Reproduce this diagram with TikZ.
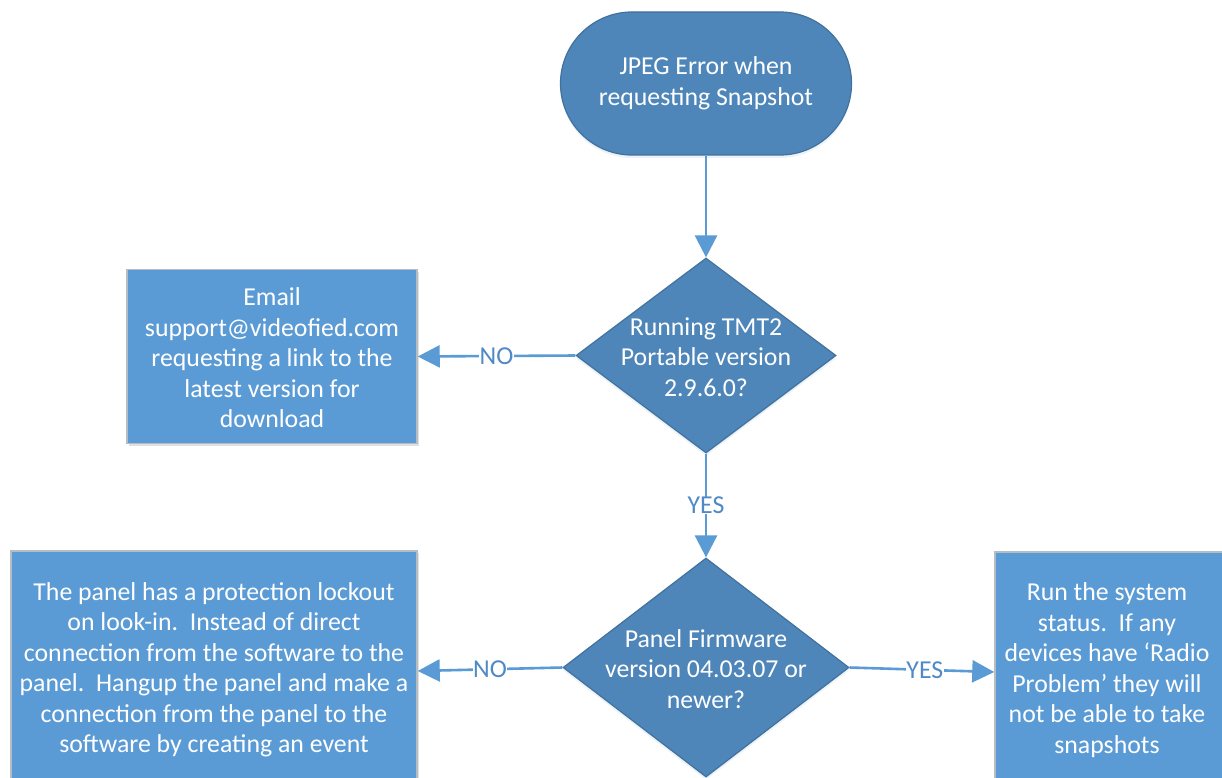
\documentclass[tikz,border=0pt]{standalone}
\usepackage{fontspec}
\setmainfont{Carlito}
\usetikzlibrary{shapes.geometric,arrows.meta,shadows}
\definecolor{darkfill}{HTML}{4E86B9}
\definecolor{darkline}{HTML}{41719C}
\definecolor{boxfill}{HTML}{5B9BD5}
\definecolor{boxline}{HTML}{B4BCC4}
\definecolor{arrowcol}{HTML}{5B9BD5}
\definecolor{labcol}{HTML}{4F89C6}
\tikzset{
  txt/.style={text=white, align=center, font=\fontsize{25.8}{30.5}\selectfont, inner sep=0pt},
  terminal/.style={draw=darkline, line width=1.2pt, fill=darkfill, rounded corners=71.5pt,
     minimum width=291pt, minimum height=143pt, inner sep=0pt,
     drop shadow={shadow xshift=0pt, shadow yshift=-3pt, opacity=0.12, fill=arrowcol}},
  decision/.style={diamond, draw=darkline, line width=1.2pt, fill=darkfill, inner sep=0pt,
     drop shadow={shadow xshift=0pt, shadow yshift=-3pt, opacity=0.12, fill=arrowcol}},
  process/.style={draw=boxline, line width=1.5pt, fill=boxfill, inner sep=0pt,
     drop shadow={shadow xshift=2pt, shadow yshift=-2pt, opacity=0.12, fill=black}},
  conn/.style={draw=arrowcol, line width=2.6pt, -{Triangle[length=22pt,width=22pt]}},
  lab/.style={fill=white, text=labcol, font=\fontsize{25.8}{30.5}\selectfont, inner sep=0.5pt}
}
\begin{document}
\begin{tikzpicture}[x=1pt,y=-1pt]
\useasboundingbox (0,0) rectangle (1222,778);
\clip (0,0) rectangle (1222,778);
\fill[white] (0,0) rectangle (1222,778);

% start
\node[terminal] (start) at (706,83.5) {};
\node[txt] (startt) at (start.center) {JPEG Error when\\requesting Snapshot};

% decision 1
\node[decision, minimum width=260pt, minimum height=195pt] (d1) at (706,355.5) {};
\node[txt] (d1t) at (706,357) {Running TMT2\\Portable version\\2.9.6.0?};

% email box
\node[process, minimum width=290pt, minimum height=174pt] (email) at (272,356.5) {};
\node[txt] (emailt) at (272,358) {Email\\support@videofied.com\\requesting a link to the\\latest version for\\download};

% decision 2
\node[decision, minimum width=286pt, minimum height=219pt] (d2) at (706,667.5) {};
\node[txt] (d2t) at (706,669) {Panel Firmware\\version 04.03.07 or\\newer?};

% left bottom box
\node[process, minimum width=406pt, minimum height=240pt] (lock) at (214,671) {};
\node[txt] (lockt) at (214,670) {The panel has a protection lockout\\on look-in.\ \ Instead of direct\\connection from the software to the\\panel.\ \ Hangup the panel and make a\\connection from the panel to the\\software by creating an event};

% right bottom box
\node[process, minimum width=250pt, minimum height=240pt] (radio) at (1120,672) {};
\node[txt] (radiot) at (1107,670) {Run the system\\status.\ \ If any\\devices have ‘Radio\\Problem’ they will\\not be able to take\\snapshots};

% connectors
\draw[conn] (start.south) -- (d1.north);
\draw[conn] (d1.west) -- node[lab, pos=0.5] (no1) {NO} (email.east);
\draw[conn] (d1.south) -- node[lab, pos=0.5] (yes1) {YES} (d2.north);
\draw[conn] (d2.west) -- node[lab, pos=0.5] (no2) {NO} (lock.east);
\draw[conn] (d2.east) -- node[lab, pos=0.52] (yes2) {YES} (radio.west);
\end{tikzpicture}
\end{document}
